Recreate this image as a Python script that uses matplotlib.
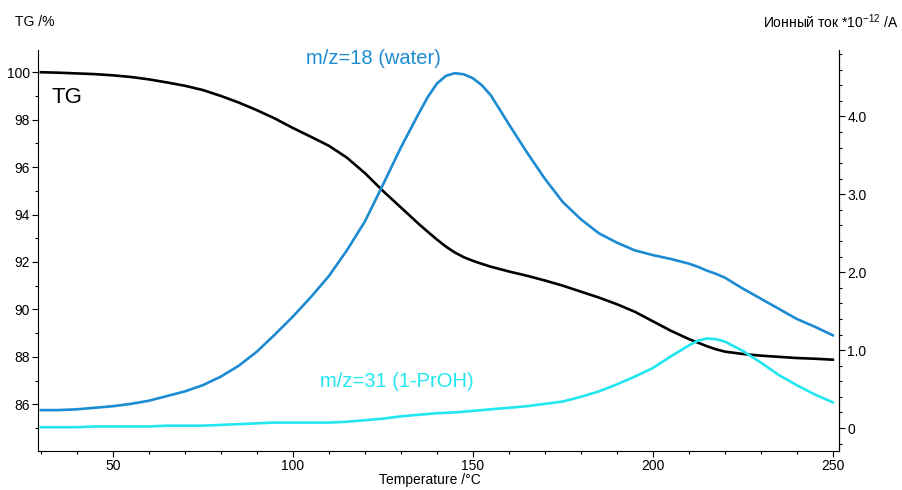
import matplotlib.pyplot as plt
from matplotlib.ticker import MultipleLocator, FuncFormatter

plt.rcParams['font.family'] = ['Liberation Sans', 'DejaVu Sans']
plt.rcParams['mathtext.fontset'] = 'custom'
plt.rcParams['mathtext.rm'] = 'Liberation Sans'

# temperature grid, deg C
temp = [30, 35, 40, 45, 50, 55, 60, 65, 70, 75, 80, 85, 90, 95, 100, 105, 110,
        115, 120, 125, 130, 135, 137.5, 140, 142.5, 145, 147.5, 150, 152.5, 155,
        160, 165, 170, 175, 180, 185, 190, 195, 200, 205, 210, 212.5, 215, 217.5,
        220, 225, 230, 235, 240, 245, 250]

# TG, %
tg = [100.0, 99.98, 99.95, 99.92, 99.87, 99.8, 99.7, 99.57, 99.43, 99.25, 99.0,
      98.72, 98.4, 98.05, 97.65, 97.28, 96.9, 96.4, 95.75, 95.0, 94.3, 93.6,
      93.27, 92.95, 92.65, 92.4, 92.2, 92.05, 91.92, 91.8, 91.6, 91.42, 91.22,
      91.0, 90.75, 90.5, 90.22, 89.9, 89.5, 89.1, 88.75, 88.6, 88.45, 88.32,
      88.22, 88.12, 88.05, 88.0, 87.95, 87.92, 87.88]

# ion current m/z=18, *1e-12 A
mz18 = [0.23, 0.23, 0.24, 0.26, 0.28, 0.31, 0.35, 0.41, 0.47, 0.55, 0.66, 0.8,
        0.98, 1.2, 1.43, 1.68, 1.95, 2.28, 2.65, 3.12, 3.6, 4.04, 4.25, 4.42,
        4.52, 4.555, 4.54, 4.49, 4.4, 4.27, 3.9, 3.54, 3.2, 2.9, 2.68, 2.5,
        2.38, 2.28, 2.22, 2.17, 2.11, 2.07, 2.02, 1.98, 1.93, 1.79, 1.66, 1.53,
        1.4, 1.3, 1.19]

# ion current m/z=31
mz31 = [0.01, 0.01, 0.01, 0.02, 0.02, 0.02, 0.02, 0.03, 0.03, 0.03, 0.04, 0.05,
        0.06, 0.07, 0.07, 0.07, 0.07, 0.08, 0.1, 0.12, 0.15, 0.17, 0.18, 0.19,
        0.195, 0.2, 0.21, 0.22, 0.23, 0.24, 0.26, 0.28, 0.31, 0.34, 0.4, 0.47,
        0.56, 0.66, 0.77, 0.92, 1.06, 1.12, 1.15, 1.14, 1.11, 0.99, 0.84, 0.68,
        0.55, 0.43, 0.33]

blue = '#1c8bd2'
cyan = '#22e6f0'

fig = plt.figure(figsize=(9.02, 4.9), dpi=100)
ax = fig.add_axes([0.0421, 0.0796, 0.888, 0.818])
ax2 = ax.twinx()

ax.plot(temp, tg, color='black', lw=1.9, zorder=3)
ax2.plot(temp, mz18, color=blue, lw=1.9)
ax2.plot(temp, mz31, color=cyan, lw=1.9)

ax.set_xlim(29.2, 251.7)
ax.set_ylim(84.03, 100.93)
ax2.set_ylim(-0.295, 4.85)

ax.xaxis.set_major_locator(MultipleLocator(50))
ax.xaxis.set_minor_locator(MultipleLocator(10))
ax.yaxis.set_major_locator(MultipleLocator(2))
ax.yaxis.set_minor_locator(MultipleLocator(1))
ax2.yaxis.set_major_locator(MultipleLocator(1))
ax2.yaxis.set_minor_locator(MultipleLocator(0.2))
ax2.yaxis.set_major_formatter(FuncFormatter(lambda v, p: '0' if abs(v) < 1e-9 else f'{v:.1f}'))

for a in (ax, ax2):
    a.spines['top'].set_visible(False)
    a.tick_params(which='major', length=4, width=0.8, labelsize=10, pad=2)
    a.tick_params(which='minor', length=2.5, width=0.8)
ax2.spines['left'].set_visible(False)
ax2.spines['bottom'].set_visible(False)

fig.text(0.017, 0.955, 'TG /%', fontsize=10, va='center')
fig.text(0.996, 0.955, 'Ионный ток *10$^{-12}$ /A', fontsize=10, va='center', ha='right')
fig.text(0.477, 0.02, 'Temperature /°C', fontsize=10, ha='center', va='center')

ax.text(0.017, 0.868, 'TG', transform=ax.transAxes, fontsize=16, color='black')
ax.text(0.335, 0.965, 'm/z=18 (water)', transform=ax.transAxes, fontsize=14.5, color=blue)
ax.text(0.352, 0.16, 'm/z=31 (1-PrOH)', transform=ax.transAxes, fontsize=14.5, color=cyan)

fig.savefig('out.png', dpi=100)
